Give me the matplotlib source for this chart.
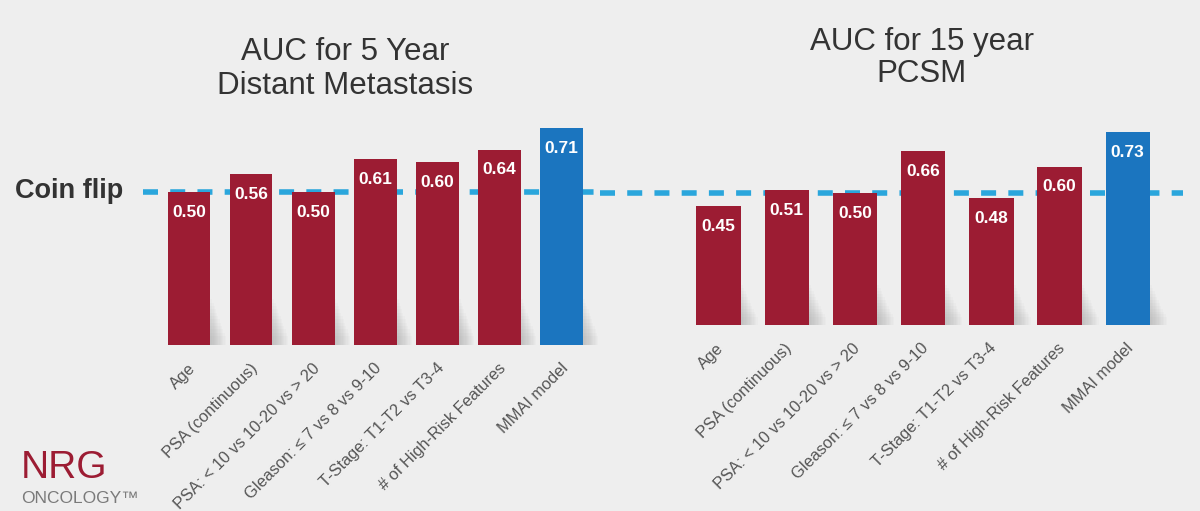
import matplotlib.pyplot as plt
from matplotlib.transforms import ScaledTranslation

categories = ["Age", "PSA (continuous)", "PSA: < 10 vs 10-20 vs > 20",
              "Gleason: \u2264 7 vs 8 vs 9-10", "T-Stage: T1-T2 vs T3-4",
              "# of High-Risk Features", "MMAI model"]
auc_dm_5yr = [0.50, 0.56, 0.50, 0.61, 0.60, 0.64, 0.71]
auc_pcsm_15yr = [0.45, 0.51, 0.50, 0.66, 0.48, 0.60, 0.73]
coin_flip = 0.5

RED = "#9c1c33"
BLUE = "#1b75bf"
DASH = "#2aa6dc"
BG = "#eeeeee"

plt.rcParams["font.family"] = ["Liberation Sans", "DejaVu Sans"]

fig = plt.figure(figsize=(12, 5.11), dpi=100, facecolor=BG)

# left panel / right panel
ax1 = fig.add_axes([0.1192, 0.3249, 0.3808, 0.4775])
ax2 = fig.add_axes([0.5, 0.364, 0.4858, 0.413])


def draw(ax, values, width, xlim, shift):
    x = list(range(len(values)))
    colors = [RED] * (len(values) - 1) + [BLUE]
    # soft drop shadow near the base of the bars
    for k in range(12):
        ax.bar([i + 0.03 + k * 0.02 for i in x], [0.15 - k * 0.011] * len(x),
               width=width, color="#888888", alpha=0.04, lw=0, zorder=1)
    bars = ax.bar(x, values, width=width, color=colors, zorder=2)
    for b, v in zip(bars, values):
        ax.annotate(f"{v:.2f}", (b.get_x() + b.get_width() / 2, v),
                    xytext=(0, -14.5), textcoords="offset points",
                    ha="center", va="center", color="white",
                    fontsize=12.5, fontweight="bold", zorder=3)
    ax.axhline(coin_flip, color=DASH, lw=4, dashes=(2.7, 2.2), zorder=1.5)
    ax.set_xlim(*xlim)
    ax.set_ylim(0, 0.8)
    ax.set_xticks(x)
    ax.set_xticklabels(categories, rotation=45, ha="right", va="center",
                       rotation_mode="anchor", fontsize=11.8, color="#555555")
    ax.tick_params(axis="x", length=0, pad=15)
    off = ScaledTranslation(shift / 72, 0, fig.dpi_scale_trans)
    for lab in ax.get_xticklabels():
        lab.set_transform(lab.get_transform() + off)
    ax.set_yticks([])
    ax.set_facecolor("none")
    for s in ax.spines.values():
        s.set_visible(False)


draw(ax1, auc_dm_5yr, 0.69, (-0.74, 6.62), 3)
draw(ax2, auc_pcsm_15yr, 0.65, (-1.74, 6.81), 2)

fig.text(0.2875, 0.865, "AUC for 5 Year\nDistant Metastasis", ha="center",
         va="center", fontsize=22.5, color="#333333", linespacing=1.2)
fig.text(0.768, 0.886, "AUC for 15 year\nPCSM", ha="center",
         va="center", fontsize=22.5, color="#333333", linespacing=1.1)

fig.text(0.0125, 0.627, "Coin flip", ha="left", va="center", fontsize=19.5,
         fontweight="bold", color="#333333")

# logo
fig.text(0.017, 0.064, "NRG", ha="left", va="baseline", fontsize=28,
         color=RED)
fig.text(0.018, 0.016, "ONCOLOGY\u2122", ha="left", va="baseline",
         fontsize=12.5, color="#7a7a7a")

fig.savefig("out.png", dpi=100, facecolor=BG)
